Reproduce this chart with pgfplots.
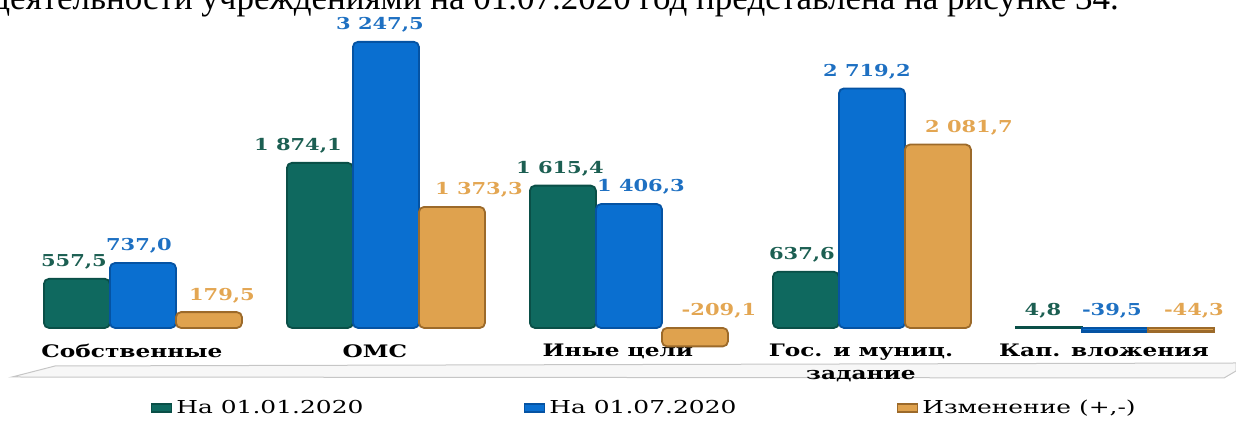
\documentclass[border=0pt]{standalone}
\usepackage{fontspec}
\setmainfont{Liberation Serif}
\usepackage{pgfplots}
\usepackage{pgfplotstable}
\pgfplotsset{compat=1.18}
\newfontfamily\catfont{DejaVu Serif}[FakeStretch=1.35]
\newfontfamily\valfont{DejaVu Serif}[FakeStretch=1.28]
\newfontfamily\legfont{DejaVu Serif}[FakeStretch=1.4]

\definecolor{cTeal}{HTML}{0F695F}
\definecolor{cBlue}{HTML}{0A6FD0}
\definecolor{cOrange}{HTML}{DFA24E}
\definecolor{eTeal}{HTML}{0A4F47}
\definecolor{eBlue}{HTML}{0553A3}
\definecolor{eOrange}{HTML}{9C6A2A}
\definecolor{lTeal}{HTML}{1C5F52}
\definecolor{lBlue}{HTML}{1E70C2}
\definecolor{lOrange}{HTML}{E3A652}

\pgfplotstableread{
x y ly dx lab
0 557.5 557.5 -1.5 557,5
1 1874.1 1874.1 -11 1~874,1
2 1615.4 1615.4 -1.5 1~615,4
3 637.6 637.6 -2 637,6
4 4.8 4.8 -3 4,8
}\tealdata
\pgfplotstableread{
x y ly dx lab
0 737.0 737.0 -2 737,0
1 3247.5 3247.5 -3 3~247,5
2 1406.3 1406.3 6 1~406,3
3 2719.2 2719.2 -2.5 2~719,2
4 -39.5 0 -1.5 -39,5
}\bluedata
\pgfplotstableread{
x y ly dx lab
0 179.5 179.5 6.5 179,5
1 1373.3 1373.3 13.5 1~373,3
2 -209.1 0 12 -209,1
3 2081.7 2081.7 15.5 2~081,7
4 -44.3 0 6.5 -44,3
}\orangedata

\begin{document}
\begin{tikzpicture}
\useasboundingbox (0,0) rectangle (618pt,210.5pt);
\clip (0,0) rectangle (618pt,210.5pt);
\node[anchor=base west, inner sep=0pt, font=\fontsize{17.5}{20}\selectfont] at (-4pt,205.5pt)
  {деятельности учреждениями на 01.07.2020 год представлена на рисунке 34.};
\filldraw[fill=gray!6, draw=gray!45, line width=0.5pt]
  (6pt,22pt) -- (27.5pt,27.5pt) -- (618pt,29pt) -- (618pt,25pt) -- (612pt,21.5pt) -- cycle;
\begin{axis}[
  at={(1pt,28.9pt)}, anchor=south west,
  scale only axis, width=617.2pt, height=180.6pt,
  xmin=-0.58, xmax=4.5, ymin=-400, ymax=3700,
  ybar, bar width=33pt,
  axis line style={draw=none}, ytick=\empty,
  xtick={0,1,2,3,4}, major tick length=0pt,
  xticklabels={Собственные, ОМС, Иные цели, {Гос. и муниц.\\задание}, Кап. вложения},
  xticklabel style={font=\catfont\bfseries\fontsize{8.6}{11.5}\selectfont, align=center,
    anchor=north, inner sep=0pt, yshift=9.6pt, xshift=-5.5pt},
  clip=false,
  legend columns=3,
  legend style={draw=none, fill=none, at={(0.521,-0.124)}, anchor=center, inner sep=0pt,
    font=\legfont\fontsize{8.9}{10}\selectfont,
    /tikz/every even column/.append style={column sep=78pt}},
  every axis plot post/.append style={legend image code/.code={\fill[##1, sharp corners] (0pt,-2pt) rectangle (10pt,2pt);}},
]
% main bars (rounded tops), the last category drawn separately with sharp corners
\addplot[fill=cTeal, draw=eTeal, line width=0.9pt, rounded corners=2.5pt, bar shift=-33pt,
  skip coords between index={4}{5}] table[x=x,y=y] \tealdata;
\addlegendentry{На 01.01.2020}
\addplot[fill=cBlue, draw=eBlue, line width=0.9pt, rounded corners=2.5pt, bar shift=0pt,
  skip coords between index={4}{5}] table[x=x,y=y] \bluedata;
\addlegendentry{На 01.07.2020}
\addplot[fill=cOrange, draw=eOrange, line width=0.9pt, rounded corners=2.5pt, bar shift=33pt,
  skip coords between index={4}{5}] table[x=x,y=y] \orangedata;
\addlegendentry{Изменение (+,-)}
\addplot[forget plot, fill=cTeal, draw=eTeal, line width=1.4pt, bar shift=-33pt,
  skip coords between index={0}{4}] table[x=x,y=y] \tealdata;
\addplot[forget plot, fill=cBlue, draw=eBlue, line width=1.4pt, bar shift=0pt,
  skip coords between index={0}{4}] table[x=x,y=y] \bluedata;
\addplot[forget plot, fill=cOrange, draw=eOrange, line width=1.4pt, bar shift=33pt,
  skip coords between index={0}{4}] table[x=x,y=y] \orangedata;

\addplot[forget plot, draw=none, fill=none, bar shift=-33pt, nodes near coords,
  point meta=explicit symbolic, visualization depends on={\thisrow{dx} \as \dx},
  nodes near coords style={anchor=south, inner sep=0pt, xshift=\dx pt, yshift=4.5pt, text=lTeal,
    font=\valfont\bfseries\fontsize{8.2}{9}\selectfont}]
  table[x=x, y=ly, meta=lab] \tealdata;
\addplot[forget plot, draw=none, fill=none, bar shift=0pt, nodes near coords,
  point meta=explicit symbolic, visualization depends on={\thisrow{dx} \as \dx},
  nodes near coords style={anchor=south, inner sep=0pt, xshift=\dx pt, yshift=4.5pt, text=lBlue,
    font=\valfont\bfseries\fontsize{8.2}{9}\selectfont}]
  table[x=x, y=ly, meta=lab] \bluedata;
\addplot[forget plot, draw=none, fill=none, bar shift=33pt, nodes near coords,
  point meta=explicit symbolic, visualization depends on={\thisrow{dx} \as \dx},
  nodes near coords style={anchor=south, inner sep=0pt, xshift=\dx pt, yshift=4.5pt, text=lOrange,
    font=\valfont\bfseries\fontsize{8.2}{9}\selectfont}]
  table[x=x, y=ly, meta=lab] \orangedata;
\end{axis}
\end{tikzpicture}
\end{document}
